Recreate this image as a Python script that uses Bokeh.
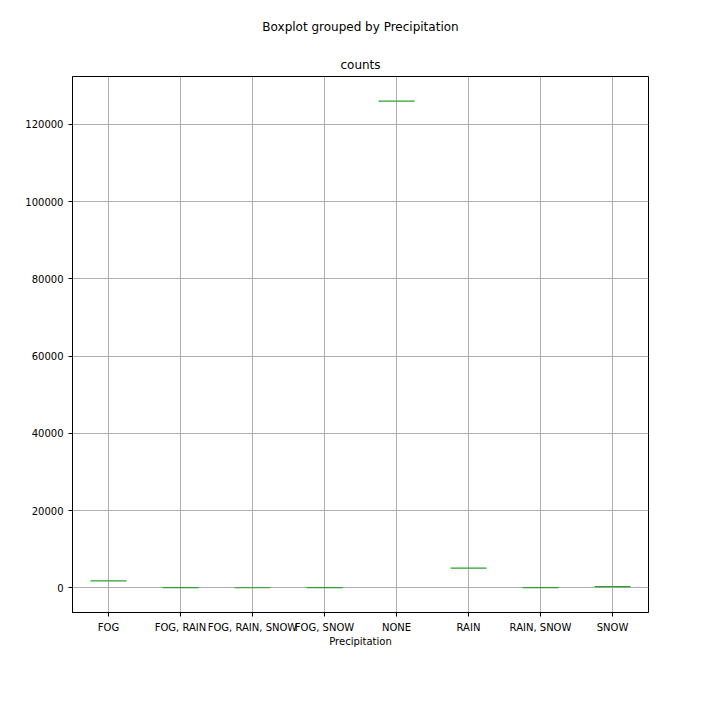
from bokeh.plotting import figure
from bokeh.models import FixedTicker, Title, Range1d
from bokeh.embed import file_html
from bokeh.resources import INLINE

categories = ["FOG", "FOG, RAIN", "FOG, RAIN, SNOW", "FOG, SNOW", "NONE", "RAIN", "RAIN, SNOW", "SNOW"]
counts = [1800, 60, 10, 25, 126000, 5100, 40, 300]

xs = list(range(1, len(categories) + 1))
p = figure(width=704, height=704, output_backend="svg", toolbar_location=None,
           x_range=Range1d(0.5, 8.5), y_range=Range1d(-6400, 132400),
           min_border_left=72, min_border_right=56, min_border_top=64, min_border_bottom=92)
p.segment(x0=[x - 0.25 for x in xs], x1=[x + 0.25 for x in xs], y0=counts, y1=counts,
          line_color="#2ca02c", line_width=1.2)
p.xaxis.ticker = FixedTicker(ticks=xs)
p.xaxis.major_label_overrides = {x: c for x, c in zip(xs, categories)}
p.yaxis.ticker = FixedTicker(ticks=[0, 20000, 40000, 60000, 80000, 100000, 120000])
p.yaxis.formatter.use_scientific = False
for ax in (p.xaxis, p.yaxis):
    ax.major_label_text_font = "DejaVu Sans"
    ax.major_label_text_font_size = "10px"
    ax.major_label_text_color = "black"
    ax.axis_line_color = "black"
    ax.major_tick_line_color = "black"
    ax.minor_tick_line_color = None
    ax.major_tick_out = 4
    ax.major_tick_in = 0
p.xaxis.axis_label = "Precipitation"
p.xaxis.axis_label_text_font = "DejaVu Sans"
p.xaxis.axis_label_text_font_style = "normal"
p.xaxis.axis_label_text_font_size = "10px"
p.xaxis.axis_label_text_color = "black"
p.xaxis.axis_label_standoff = 0
p.grid.grid_line_color = "#b0b0b0"
p.grid.grid_line_alpha = 1.0
p.outline_line_color = "black"
p.add_layout(Title(text="counts", align="center", text_font="DejaVu Sans", text_color="black",
                   text_font_size="12px", text_font_style="normal"), "above")
p.add_layout(Title(text="Boxplot grouped by Precipitation", align="center", text_font="DejaVu Sans",
                   text_color="black", text_font_size="12px", text_font_style="normal",
                   offset=0, standoff=34), "above")
open("out.html", "w").write(file_html(p, INLINE))
